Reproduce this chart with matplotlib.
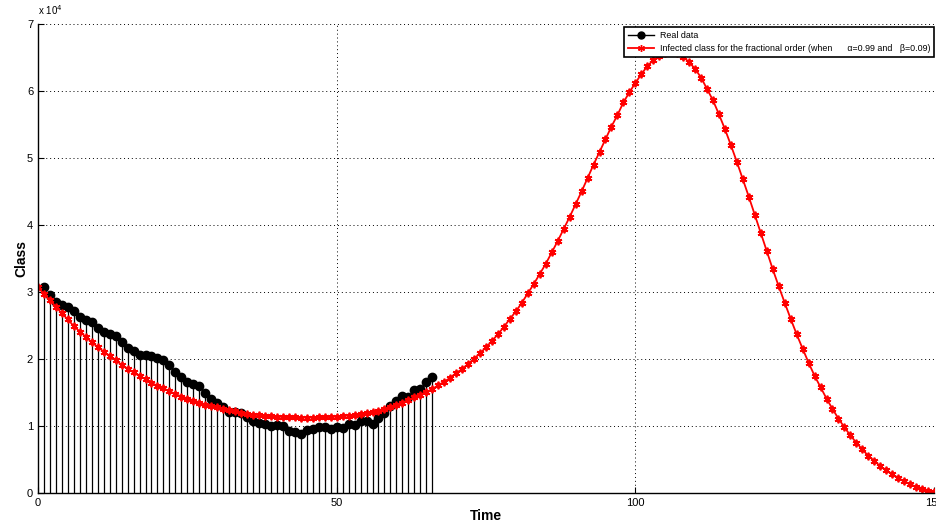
import numpy as np
import matplotlib
matplotlib.use("Agg")
import matplotlib.pyplot as plt
from matplotlib.lines import Line2D

plt.rcParams["font.family"] = ["Liberation Sans", "DejaVu Sans"]

# values are in units of 10^4
real_days = list(range(1, 67))
real_cases = [
    3.07, 2.955, 2.855, 2.81, 2.78, 2.72, 2.62, 2.58, 2.555, 2.47,
    2.41, 2.38, 2.34, 2.25, 2.17, 2.115, 2.055, 2.055, 2.045, 2.015,
    1.98, 1.905, 1.81, 1.725, 1.655, 1.63, 1.60, 1.50, 1.41, 1.35,
    1.29, 1.215, 1.215, 1.20, 1.13, 1.08, 1.05, 1.03, 1.005, 1.02,
    1.005, 0.92, 0.91, 0.88, 0.935, 0.96, 0.99, 0.98, 0.95, 0.985,
    0.965, 1.025, 1.01, 1.08, 1.07, 1.035, 1.115, 1.19, 1.30, 1.38,
    1.45, 1.44, 1.54, 1.55, 1.66, 1.73,
]

model_days = list(range(0, 151))
infected_model = [
    3.07, 2.97, 2.88, 2.78, 2.68, 2.59, 2.49, 2.41, 2.33, 2.25,
    2.18, 2.11, 2.045, 1.98, 1.915, 1.855, 1.80, 1.745, 1.70, 1.645,
    1.60, 1.56, 1.52, 1.48, 1.44, 1.41, 1.38, 1.35, 1.32, 1.30,
    1.28, 1.26, 1.24, 1.22, 1.20, 1.185, 1.17, 1.16, 1.15, 1.145,
    1.14, 1.135, 1.13, 1.128, 1.125, 1.125, 1.125, 1.128, 1.13, 1.135,
    1.14, 1.148, 1.155, 1.165, 1.175, 1.19, 1.205, 1.225, 1.25, 1.28,
    1.31, 1.35, 1.39, 1.43, 1.47, 1.51, 1.55, 1.61, 1.66, 1.72,
    1.79, 1.85, 1.925, 2.005, 2.085, 2.175, 2.27, 2.37, 2.48, 2.60,
    2.71, 2.84, 2.98, 3.12, 3.27, 3.42, 3.59, 3.76, 3.94, 4.12,
    4.31, 4.50, 4.70, 4.90, 5.09, 5.28, 5.47, 5.64, 5.83, 5.98,
    6.12, 6.25, 6.37, 6.46, 6.52, 6.56, 6.58, 6.56, 6.51, 6.43,
    6.33, 6.20, 6.03, 5.86, 5.65, 5.43, 5.19, 4.94, 4.68, 4.42,
    4.15, 3.885, 3.61, 3.34, 3.085, 2.84, 2.60, 2.37, 2.155, 1.945,
    1.75, 1.58, 1.41, 1.255, 1.11, 0.98, 0.86, 0.75, 0.65, 0.555,
    0.48, 0.40, 0.34, 0.28, 0.225, 0.175, 0.13, 0.095, 0.06, 0.03,
    0.015,
]

x_ticks = [0, 50, 100, 150]
y_ticks = [0, 1, 2, 3, 4, 5, 6, 7]

fig = plt.figure(figsize=(9.36, 5.26), dpi=100)
ax = fig.add_axes([0.0406, 0.0627, 0.9573, 0.8917])

# real data as stems
markers, stems, base = ax.stem(real_days, real_cases, linefmt="k-", markerfmt="ko", basefmt=" ")
stems.set_linewidth(0.9)
markers.set_markersize(6)

# fractional order model
asterisk = (6, 2, 0)
ax.plot(model_days, infected_model, color="red", linewidth=1.3,
        marker=asterisk, markersize=5.5, markeredgewidth=1.3)

ax.set_xlim(0, 150)
ax.set_ylim(0, 7)
ax.set_xticks(x_ticks)
ax.set_yticks(y_ticks)
ax.tick_params(direction="in", length=4, labelsize=8, width=0.8)
ax.grid(True, color="black", linestyle=(0, (1, 3)), linewidth=0.7)

ax.spines["top"].set_visible(False)
ax.spines["right"].set_visible(False)
ax.spines["left"].set_linewidth(1.0)
ax.spines["bottom"].set_linewidth(1.0)

ax.set_xlabel("Time", fontsize=10, fontweight="bold", labelpad=1)
ax.set_ylabel("Class", fontsize=10, fontweight="bold", labelpad=-1)
ax.text(0.0, 1.015, r"x 10$^{4}$", transform=ax.transAxes, fontsize=7, ha="left", va="bottom")

handles = [
    Line2D([], [], color="black", linewidth=1, marker="o", markersize=5),
    Line2D([], [], color="red", linewidth=1.3, marker=asterisk, markersize=5),
]
labels = [
    "Real data",
    "Infected class for the fractional order (when      \u03b1=0.99 and   \u03b2=0.09)",
]
leg = ax.legend(handles, labels, loc="upper right", bbox_to_anchor=(1.0, 0.993),
                borderaxespad=0, fontsize=6.4, fancybox=False, framealpha=1,
                edgecolor="black", handlelength=2.9, handletextpad=0.6,
                labelspacing=0.45, borderpad=0.45)
leg.get_frame().set_linewidth(1.2)

fig.savefig("out.png", dpi=100)
